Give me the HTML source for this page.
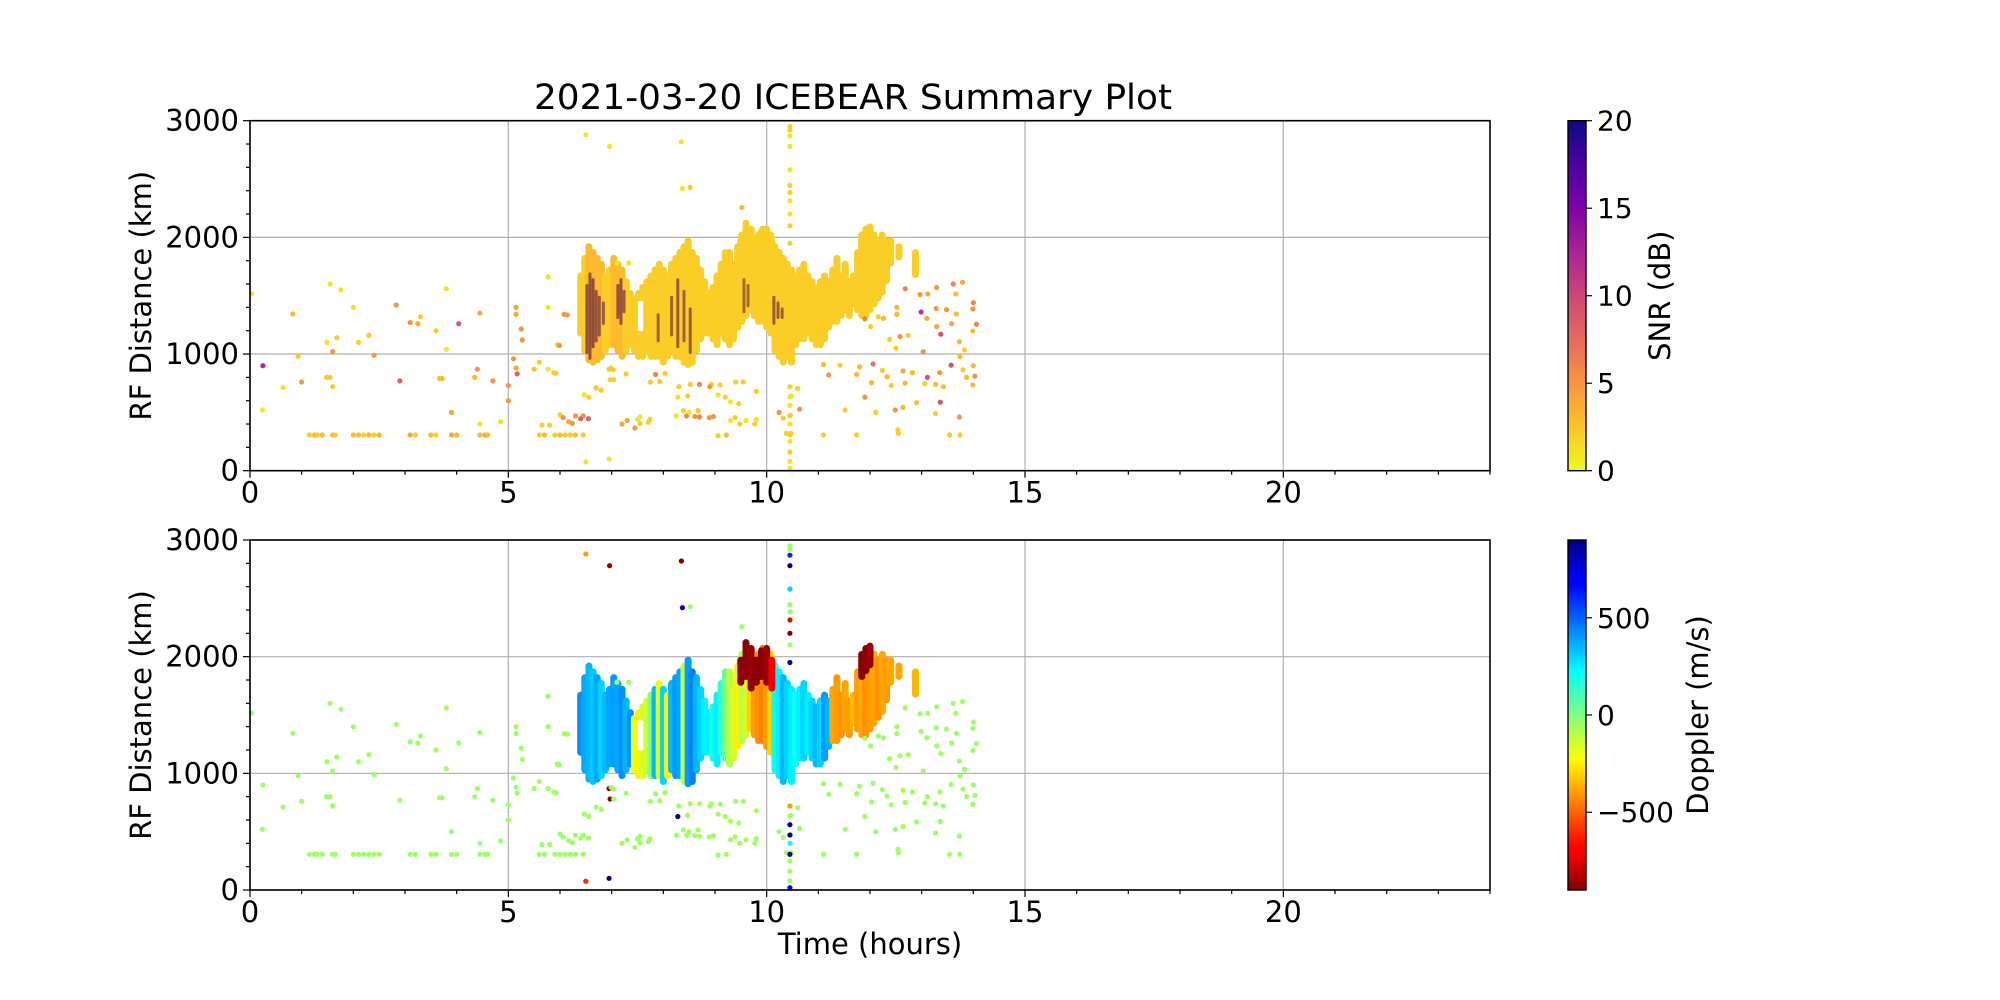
<!DOCTYPE html>
<html><head><meta charset="utf-8"><title>ICEBEAR Summary Plot</title>
<style>
html,body{margin:0;padding:0;background:#fff;}
svg{display:block;font-family:"DejaVu Sans","Liberation Sans",sans-serif;}
</style></head>
<body>
<svg id="fig" width="2000" height="1000" viewBox="0 0 2000 1000" xmlns="http://www.w3.org/2000/svg">
<defs>
<linearGradient id="snrGrad" x1="0" y1="1" x2="0" y2="0">
<stop offset="0" stop-color="#f0f921"/><stop offset="0.125" stop-color="#fdc328"/><stop offset="0.25" stop-color="#f89540"/><stop offset="0.375" stop-color="#e56b5d"/><stop offset="0.5" stop-color="#cc4778"/><stop offset="0.625" stop-color="#a92395"/><stop offset="0.75" stop-color="#7e03a8"/><stop offset="0.875" stop-color="#4c02a1"/><stop offset="1" stop-color="#0d0887"/>
</linearGradient>
<linearGradient id="dopGrad" x1="0" y1="1" x2="0" y2="0">
<stop offset="0" stop-color="#800000"/><stop offset="0.11" stop-color="#ff0000"/><stop offset="0.125" stop-color="#ff0000"/><stop offset="0.375" stop-color="#ffff00"/><stop offset="0.5" stop-color="#80ff80"/><stop offset="0.625" stop-color="#00ffff"/><stop offset="0.875" stop-color="#0000ff"/><stop offset="0.89" stop-color="#0000ff"/><stop offset="1" stop-color="#000080"/>
</linearGradient>
</defs>
<text x="853" y="109" font-size="35" text-anchor="middle" textLength="638" lengthAdjust="spacingAndGlyphs">2021-03-20 ICEBEAR Summary Plot</text>
<g id="p1"></g>
<g id="p2"></g>
<g id="cb"></g>
<text x="870" y="954" font-size="29" text-anchor="middle">Time (hours)</text>
</svg>
<script>
// ---- data ----
const xTicks = [0, 5, 10, 15, 20];
const yTicks = [0, 1000, 2000, 3000];
const snrTicks = [0, 5, 10, 15, 20];
const dopTicks = [-500, 0, 500];

// dense echo streaks (vertical bands)
const streakHour = [6.40,6.48,6.56,6.64,6.72,6.80,6.88,6.96,7.04,7.12,7.20,7.28,7.36,7.44,7.52,7.52,7.60,7.60,7.68,7.76,7.84,7.92,8.00,8.08,8.16,8.24,8.32,8.40,8.48,8.56,8.64,8.72,8.80,8.88,8.96,9.04,9.12,9.20,9.28,9.36,9.44,9.52,9.60,9.68,9.76,9.84,9.92,10.00,10.08,10.16,10.24,10.32,10.40,10.48,10.56,10.64,10.72,10.80,10.88,10.96,11.04,11.12,11.20,11.28,11.36,11.44,11.52,11.60,11.68,11.76,11.84,11.92,12.00,12.08,12.16,12.24,12.32,12.40,12.56,12.88,9.50,9.60,9.70,9.80,9.90,10.00,10.10,11.84,11.92,12.00];
const streakLow  = [1150,1000,920,900,920,950,1000,1050,1050,1000,950,1000,1050,1000,950,1450,950,1450,1000,950,950,950,900,950,1000,950,950,900,880,900,1000,1100,1150,1150,1100,1050,1150,1100,1050,1100,1200,1250,1300,1350,1300,1250,1250,1200,1150,1000,950,900,950,900,1050,1100,1100,1150,1100,1050,1050,1100,1200,1250,1250,1300,1350,1300,1400,1350,1300,1300,1350,1400,1450,1500,1600,1750,1800,1650,1750,1800,1700,1750,1800,1750,1700,1800,1850,1900];
const streakHigh = [1700,1850,1950,1900,1850,1800,1700,1750,1850,1800,1750,1650,1550,1500,1200,1550,1200,1600,1650,1700,1750,1800,1750,1700,1800,1850,1900,1950,2000,1900,1850,1750,1650,1550,1600,1700,1800,1900,1900,1800,1950,2050,2150,2100,2000,2050,2100,2100,2050,1950,1900,1850,1800,1750,1700,1750,1800,1700,1650,1600,1650,1700,1650,1750,1850,1700,1800,1650,1700,1900,2000,2050,2100,2050,2000,2050,2000,2000,1950,1900,2000,2150,2100,2000,2080,2100,2000,2050,2100,2120];
const streakSnr  = [2,2,3,3,3,3,2,2,3,3,3,2,2,2,2,2,2,2,2,2,2,2,2,2,2,2,2,2,2,2,2,2,2,2,2,2,2,2,2,2,2,2,2,2,2,2,2,2,2,2,2,2,2,2,2,2,2,2,2,2,2,2,2,2,2,2,2,2,2,2,2,2,2,2,2,2,2,2,2,2,2,2,2,2,2,2,2,2,2,2];
const streakDop  = [420,380,350,320,380,300,350,380,400,380,420,350,420,-200,-250,-250,-150,-150,-150,0,350,-200,300,-250,350,400,380,-100,400,450,350,300,250,250,200,250,150,50,-100,-150,-250,-100,-150,-300,-400,-420,-450,-400,-300,200,250,350,300,250,200,250,300,250,300,350,300,400,350,-380,-400,-420,-380,-400,-350,-400,-380,-420,-400,-380,-420,-380,-400,-380,-380,-350,-880,-880,-850,-880,-880,-850,-700,-880,-880,-850];

// high-SNR cores inside streaks
const coreHour = [6.52,6.58,6.64,6.70,6.76,6.84,7.12,7.18,7.24,7.90,8.16,8.28,8.40,8.52,9.56,9.64,10.14,10.22,10.30];
const coreLow  = [1000,950,1050,1100,1150,1250,1300,1250,1350,1100,1150,1050,1100,1000,1350,1400,1250,1300,1300];
const coreHigh = [1600,1700,1650,1550,1500,1450,1600,1650,1550,1350,1500,1650,1550,1400,1650,1600,1500,1450,1400];
const coreSnr  = [9,9,10,9,8,8,9,9,8,7,7,8,7,8,6,6,8,8,7];

// isolated echoes
const ptHour = [0.03,0.25,0.24,0.64,0.83,0.93,1.0,1.55,1.76,1.68,1.49,1.6,1.48,1.55,1.6,2.0,2.1,2.3,2.4,2.83,2.9,3.1,3.25,3.3,3.6,3.67,3.72,3.8,3.8,3.9,4.04,4.45,4.45,4.35,4.4,4.7,4.85,5.0,5.0,5.1,5.15,5.17,5.15,5.15,5.25,5.27,5.5,5.77,5.77,5.77,5.88,5.6,5.95,6.08,6.0,6.17,6.3,6.45,5.65,5.8,6.47,6.7,6.5,6.5,6.96,6.95,6.95,6.97,6.99,7.1,7.2,7.3,7.5,7.55,7.85,7.75,7.33,8.35,8.37,8.25,8.45,8.7,8.3,8.28,8.5,8.7,9.06,8.93,9.06,9.3,9.3,9.6,9.8,9.4,
 12.68,12.97,13.12,13.29,13.61,13.79,13.66,14.0,13.99,12.52,12.99,13.1,13.28,13.48,13.67,13.29,13.37,13.58,13.73,13.83,14.06,13.99,12.58,12.26,11.9,12.01,12.16,12.52,12.74,12.5,12.38,13.03,13.35,13.57,13.74,14.0,14.03,13.87,13.99,13.8,13.42,13.11,12.82,12.64,12.33,12.24,12.06,11.8,11.42,11.2,11.1,11.74,12.03,12.41,12.68,13.06,13.27,12.64,12.9,13.36,13.73,13.27,12.49,12.11,11.52,11.9,12.54,12.55,13.54,13.74,11.74,11.1,10.38,10.47,10.64,10.24,10.32,10.46,10.6,10.47,
 5.99,5.92,6.14,6.56,6.8,7.03,7.04,7.28,8.03,7.93,8.39,8.67,8.61,8.89,8.97,9.1,8.9,8.52,8.47,9.2,9.46,9.55,9.8,9.39,9.48,9.77,7.74,7.71,7.45,7.55,6.06,6.24,6.4,6.55,5.9,6.1,6.2,6.45,9.22,
 1.15,1.25,1.3,1.4,1.6,1.65,2.0,2.1,2.2,2.3,2.4,2.5,3.1,3.2,3.5,3.6,3.9,4.0,4.45,4.55,4.6,5.6,5.7,6.0,6.2,6.3,
 10.45,10.45,10.45,10.45,10.45,10.45,10.45,10.45,10.45,10.45,10.45,10.45,10.45,10.45,10.45,10.45,10.45,10.45,10.45,10.45,10.45,9.52,8.52];
const ptKm = [1515,900,520,712,1343,980,760,1600,1550,1140,1100,1020,800,800,720,1400,1100,1160,990,1420,770,1270,1260,1320,1200,790,790,1560,1040,500,1260,1350,400,800,870,770,420,600,730,960,880,830,1400,1340,1215,1120,870,1660,1400,870,840,930,1080,1340,480,420,470,470,390,390,650,710,2880,75,2780,100,870,780,880,1780,400,430,440,460,825,760,1780,2820,2420,470,470,460,720,630,500,740,300,740,650,590,430,430,440,760,
 1560,1510,1515,1570,1600,1615,1515,1440,1386,1400,1360,1305,1390,1380,1343,1235,1170,1260,1105,1035,1255,1197,1150,1305,1300,1235,1320,1340,1160,1050,1125,1020,840,905,978,900,810,800,735,865,720,800,840,855,805,860,915,890,905,820,910,825,755,730,750,745,740,543,583,587,460,489,520,500,520,630,350,320,306,306,306,306,320,320,527,500,450,475,705,640,
 1073,835,1335,630,690,865,780,830,835,765,515,515,465,455,465,735,720,740,640,630,575,760,680,455,400,400,440,415,365,405,455,405,445,445,306,306,306,306,306,
 306,306,306,306,306,306,306,306,306,306,306,306,306,306,306,306,306,306,306,306,306,306,306,306,306,306,
 2950,2920,2870,2780,2580,2445,2385,2314,2200,720,634,560,471,400,306,250,160,80,20,2100,1950,2257,2428];
const ptSnr = [1,12,1,1,3,2,5,1,1,2,1,5,2,2,2,1,2,2,5,5,8,5,4,2,2,3,3,1,1,4,9,4,1,3,5,5,1,5,5,5,4,8,4,4,5,5,3,1,1,1,2,2,2,5,2,4,5,5,2,2,1,2,1,1,1,1,2,2,2,1,4,4,1,1,6,2,1,1,1,1,6,6,2,1,1,6,2,2,1,1,1,1,1,2,
 6,5,4,5,6,4,3,6,5,3,11,4,5,5,3,4,9,4,3,2,6,3,5,3,6,2,2,3,2,2,2,5,5,9,3,3,5,3,3,2,3,9,3,4,3,2,7,3,2,5,3,3,3,2,3,2,3,3,3,9,5,2,5,2,2,5,2,2,2,2,2,2,2,2,5,5,2,2,2,2,
 5,2,5,2,2,2,2,2,2,2,2,2,5,5,5,2,5,2,2,2,2,2,2,2,2,2,2,2,5,2,5,5,8,8,2,2,2,2,3,
 2,3,2,3,3,2,3,3,2,3,2,3,4,2,3,2,4,3,3,4,3,2,3,3,2,3,
 2,2,1,1,1,2,2,1,1,2,1,1,2,1,2,1,2,1,1,2,2,3,2];
const ptDop = [-50,-50,-50,-50,-50,-50,-50,-50,-50,-50,-50,-50,-50,-50,-50,-50,-50,-50,-50,-50,-50,-50,-50,-50,-50,-50,-50,-50,-50,-50,-50,-50,-50,-50,-50,-50,-50,-50,-50,-50,-50,-50,-50,-50,-50,-50,-50,-50,-50,-50,-50,-50,-50,-50,-50,-50,-50,-50,-50,-50,-50,-50,-400,-600,-870,870,-880,-880,-50,-50,-50,-50,-50,-50,-50,-50,-50,-880,820,-50,-50,-50,-50,870,-50,-50,-50,-50,-50,-50,-50,-50,-50,-50,-50,-50,
 -50,-50,-50,-50,-50,-50,-50,-50,-50,-50,-50,-50,-50,-50,-50,-50,-50,-50,-50,-50,-50,-50,-50,-50,-50,-50,-50,-50,-50,-50,-50,-50,-50,-50,-50,-50,-50,-50,-50,-50,-50,-50,-50,-50,-50,-50,-50,-50,-50,-50,-50,-50,-50,-50,-50,-50,-50,-50,-50,-50,-50,-50,-50,-50,-50,-50,-50,-50,-50,-50,-50,-50,-50,-50,-50,-50,-50,-50,-50,-50,
 -50,-50,-50,-50,-50,-50,-50,-50,-50,-50,-50,-50,-50,-50,-50,-50,-50,-50,-50,-50,-50,-50,-50,-50,-50,-50,-50,-50,-50,-50,-50,-50,-50,-50,-50,-50,-50,-50,-50,
 -50,-50,-50,-50,-50,-50,-50,-50,-50,-50,-50,-50,-50,-50,-50,-50,-50,-50,-50,-50,-50,-50,-50,-50,-50,-50,
 600,880,300,-50,-50,-700,-880,-400,-50,880,880,200,880,-50,-50,-50,700,-50,880,-50,-50,-880,880];

// ---- layout ----
const X0 = 250, X1 = 1490, HMAX = 24, KMAX = 3000;
const panels = [{top:120.7, bot:470.7, id:'p1', mode:'snr'}, {top:540, bot:890, id:'p2', mode:'dop'}];
const NS = 'http://www.w3.org/2000/svg';
function xs(h){ return X0 + (X1 - X0) * h / HMAX; }
function mk(tag, attrs, parent){ const e = document.createElementNS(NS, tag); for (const k in attrs) e.setAttribute(k, attrs[k]); parent.appendChild(e); return e; }
function clip(v){ return Math.max(0, Math.min(1, v)); }
function hex(r,g,b){ return 'rgb(' + Math.round(r*255) + ',' + Math.round(g*255) + ',' + Math.round(b*255) + ')'; }
const plasmaStops = [[0.941,0.976,0.129],[0.992,0.765,0.157],[0.973,0.584,0.251],[0.898,0.420,0.365],[0.800,0.278,0.471],[0.663,0.137,0.584],[0.494,0.012,0.659],[0.298,0.008,0.631],[0.051,0.031,0.529]];
function snrColor(s, dark){
  let t = clip(s / 20) * 8; let i = Math.min(7, Math.floor(t)); let f = t - i;
  const a = plasmaStops[i], b = plasmaStops[i+1];
  let c = [0,1,2].map(k => a[k] + (b[k] - a[k]) * f);
  if (dark) c = c.map(v => v * 0.55);
  return hex(c[0], c[1], c[2]);
}
function dopColor(d){
  const t = clip((900 - d) / 1800);
  return hex(clip(1.5 - Math.abs(4*t - 3)), clip(1.5 - Math.abs(4*t - 2)), clip(1.5 - Math.abs(4*t - 1)));
}

panels.forEach(p => {
  const g = document.getElementById(p.id);
  const ys = km => p.bot - (p.bot - p.top) * km / KMAX;
  xTicks.forEach(t => { const l = mk('line', {x1:xs(t), x2:xs(t), y1:p.top, y2:p.bot, stroke:'#b0b0b0', 'stroke-width':1.2}, g);
      });
  yTicks.forEach(t => { const l = mk('line', {x1:X0, x2:X1, y1:ys(t), y2:ys(t), stroke:'#b0b0b0', 'stroke-width':1.2}, g);
      });
  const sg = mk('g', {}, g);
   
  streakHour.forEach((h, i) => {
    const col = p.mode === 'snr' ? snrColor(streakSnr[i]) : dopColor(streakDop[i]);
    const y1 = ys(streakHigh[i]), y2 = ys(streakLow[i]);
    const r = mk('rect', {x:xs(h) - 3.5, y:y1, width:7, height:y2 - y1, rx:3.5, fill:col}, sg);
     
  });
  if (p.mode === 'snr') {
    coreHour.forEach((h, i) => {
      const y1 = ys(coreHigh[i]), y2 = ys(coreLow[i]);
      const r = mk('rect', {x:xs(h) - 1.5, y:y1, width:3, height:y2 - y1, rx:1.5, fill:snrColor(coreSnr[i], true), opacity:0.75}, sg);
       
    });
  }
  const pg = mk('g', {}, g);
   
  ptHour.forEach((h, i) => {
    const col = p.mode === 'snr' ? snrColor(ptSnr[i]) : dopColor(ptDop[i]);
    const c = mk('circle', {cx:xs(h), cy:ys(ptKm[i]), r:2.6, fill:col}, pg);
     
  });
  const fr = mk('rect', {x:X0, y:p.top, width:X1 - X0, height:p.bot - p.top, fill:'none', stroke:'#000', 'stroke-width':1.6}, g);
   
  for (let h = 0; h <= HMAX; h++) {
    const major = h % 5 === 0;
    mk('line', {x1:xs(h), x2:xs(h), y1:p.bot, y2:p.bot + (major ? 7 : 4), stroke:'#000', 'stroke-width':1.2}, g);
  }
  xTicks.forEach(t => { const tx = mk('text', {x:xs(t), y:p.bot + 32, 'font-size':29, 'text-anchor':'middle'}, g); tx.textContent = t;
      });
  for (let k = 0; k <= KMAX; k += 200) {
    const major = k % 1000 === 0;
    mk('line', {x1:X0 - (major ? 7 : 4), x2:X0, y1:ys(k), y2:ys(k), stroke:'#000', 'stroke-width':1.2}, g);
  }
  yTicks.forEach(t => { const tx = mk('text', {x:X0 - 11, y:ys(t) + 10, 'font-size':29, 'text-anchor':'end'}, g); tx.textContent = t;
      });
  const yl = mk('text', {x:0, y:0, 'font-size':29, 'text-anchor':'middle', transform:'translate(151,' + ((p.top + p.bot) / 2) + ') rotate(-90)'}, g);
  yl.textContent = 'RF Distance (km)';
   
});

(function(){
  const g = document.getElementById('cb');
  const CX = 1568, CW = 18;
  const bars = [{p:panels[0], grad:'url(#snrGrad)', ticks:snrTicks, min:0, max:20, label:'SNR (dB)', lx:1670, name:'snr-colorbar'},
                {p:panels[1], grad:'url(#dopGrad)', ticks:dopTicks, min:-900, max:900, label:'Doppler (m/s)', lx:1708, name:'doppler-colorbar'}];
  bars.forEach(b => {
    const r = mk('rect', {x:CX, y:b.p.top, width:CW, height:b.p.bot - b.p.top, fill:b.grad, stroke:'#000', 'stroke-width':1.4}, g);
     
    const ys = v => b.p.bot - (b.p.bot - b.p.top) * (v - b.min) / (b.max - b.min);
    b.ticks.forEach(t => {
      mk('line', {x1:CX + CW, x2:CX + CW + 6, y1:ys(t), y2:ys(t), stroke:'#000', 'stroke-width':1.2}, g);
      const tx = mk('text', {x:CX + CW + 11, y:ys(t) + 10, 'font-size':28}, g);
      tx.textContent = t < 0 ? '\u2212' + Math.abs(t) : String(t);
       
    });
    const lb = mk('text', {x:0, y:0, 'font-size':29, 'text-anchor':'middle', transform:'translate(' + b.lx + ',' + ((b.p.top + b.p.bot) / 2) + ') rotate(-90)'}, g);
    lb.textContent = b.label;
     
  });
})();
</script>
</body></html>
